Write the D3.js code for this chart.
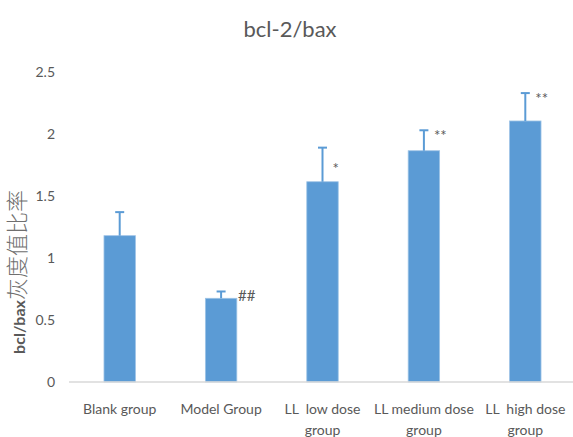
<!DOCTYPE html>
<html>
<head>
<meta charset="utf-8">
<script src="https://cdn.jsdelivr.net/npm/d3@7"></script>
<style>
  html, body { margin: 0; padding: 0; background: #fff; }
  svg { display: block; }
  text { font-family: Lato, "Open Sans", sans-serif; fill: #595959; }
</style>
</head>
<body>
<svg id="chart" width="573" height="437"></svg>
<script>
// bcl-2/bax grey-value ratio per group
const categories = [
  ["Blank group"],
  ["Model Group"],
  ["LL  low dose", "group"],
  ["LL medium dose", "group"],
  ["LL  high dose", "group"]
];
const means = [1.18, 0.675, 1.615, 1.865, 2.105];
const errors = [0.19, 0.055, 0.275, 0.165, 0.225];
const marks = ["", "##", "*", "**", "**"];
const yTicks = [0, 0.5, 1, 1.5, 2, 2.5];

const svg = d3.select("#chart");
const margin = { left: 69, right: -3, top: 72, bottom: 55 };
const W = 573, H = 437;

const x = d3.scaleBand()
  .domain(d3.range(categories.length))
  .range([margin.left, W - margin.right])
  .paddingInner(0.69)
  .paddingOuter(0.345);

const y = d3.scaleLinear()
  .domain([0, 2.5])
  .range([H - margin.bottom, margin.top]);

// Title
svg.append("text")
  .attr("x", 290).attr("y", 37)
  .attr("text-anchor", "middle")
  .attr("font-size", 22)
  .text("bcl-2/bax");

// Y axis tick labels (no axis line)
const yAxis = d3.axisLeft(y).tickValues(yTicks).tickSize(0).tickPadding(0)
  .tickFormat(d => String(d));
svg.append("g")
  .attr("transform", `translate(${55},0)`)
  .call(yAxis)
  .call(g => g.select(".domain").remove())
  .call(g => g.selectAll("text")
    .attr("font-size", 14)
    .attr("font-family", "Lato, sans-serif")
    .attr("fill", "#595959"));

// Y axis title: latin part bold, CJK part lighter and larger
const yt = svg.append("text")
  .attr("transform", `translate(25,${272}) rotate(-90)`)
  .attr("text-anchor", "middle");
yt.append("tspan")
  .attr("font-size", 16)
  .attr("font-weight", "bold")
  .text("bcl/bax");
yt.append("tspan")
  .attr("font-size", 22)
  .attr("font-weight", 300)
  .attr("font-family", "Noto Sans CJK SC, sans-serif")
  .attr("fill", "#6f6f6f")
  .text("灰度值比率");

// Bars
svg.append("g").selectAll("rect")
  .data(means)
  .join("rect")
  .attr("x", (d, i) => x(i))
  .attr("y", d => y(d))
  .attr("width", x.bandwidth())
  .attr("height", d => y(0) - y(d))
  .attr("fill", "#5B9BD5")
  .attr("stroke", "#9DC3E6")
  .attr("stroke-width", 0.8);

// Error bars (upper only)
const eb = svg.append("g").attr("stroke", "#5B9BD5").attr("stroke-width", 2);
means.forEach((m, i) => {
  const cx = x(i) + x.bandwidth() / 2;
  eb.append("line")
    .attr("x1", cx).attr("x2", cx)
    .attr("y1", y(m)).attr("y2", y(m + errors[i]));
  eb.append("line")
    .attr("x1", cx - 4.5).attr("x2", cx + 4.5)
    .attr("y1", y(m + errors[i])).attr("y2", y(m + errors[i]));
});

// Significance marks
svg.append("g").selectAll("text")
  .data(marks)
  .join("text")
  .attr("x", (d, i) => x(i) + x.bandwidth() / 2 + (d.startsWith("#") ? 17 : 10))
  .attr("y", (d, i) => y(means[i] + errors[i]) + (d.startsWith("#") ? 10 : (i === 2 ? 26 : 11)))
  .attr("font-size", d => d.startsWith("#") ? 15 : 15)
  .attr("font-family", "DejaVu Sans, sans-serif")
  .attr("fill", d => d.startsWith("#") ? "#404040" : "#6a6a6a")
  .text(d => d);

// X axis baseline
svg.append("line")
  .attr("x1", margin.left).attr("x2", W)
  .attr("y1", y(0)).attr("y2", y(0))
  .attr("stroke", "#d9d9d9").attr("stroke-width", 1.5);

// Category labels
const xl = svg.append("g");
categories.forEach((lines, i) => {
  const t = xl.append("text")
    .attr("x", x(i) + x.bandwidth() / 2)
    .attr("y", 414)
    .attr("text-anchor", "middle")
    .attr("font-size", 14)
    .attr("xml:space", "preserve")
    .style("white-space", "pre");
  lines.forEach((ln, j) => {
    t.append("tspan")
      .attr("x", x(i) + x.bandwidth() / 2)
      .attr("dy", j === 0 ? 0 : 21)
      .text(ln);
  });
});
</script>
</body>
</html>
